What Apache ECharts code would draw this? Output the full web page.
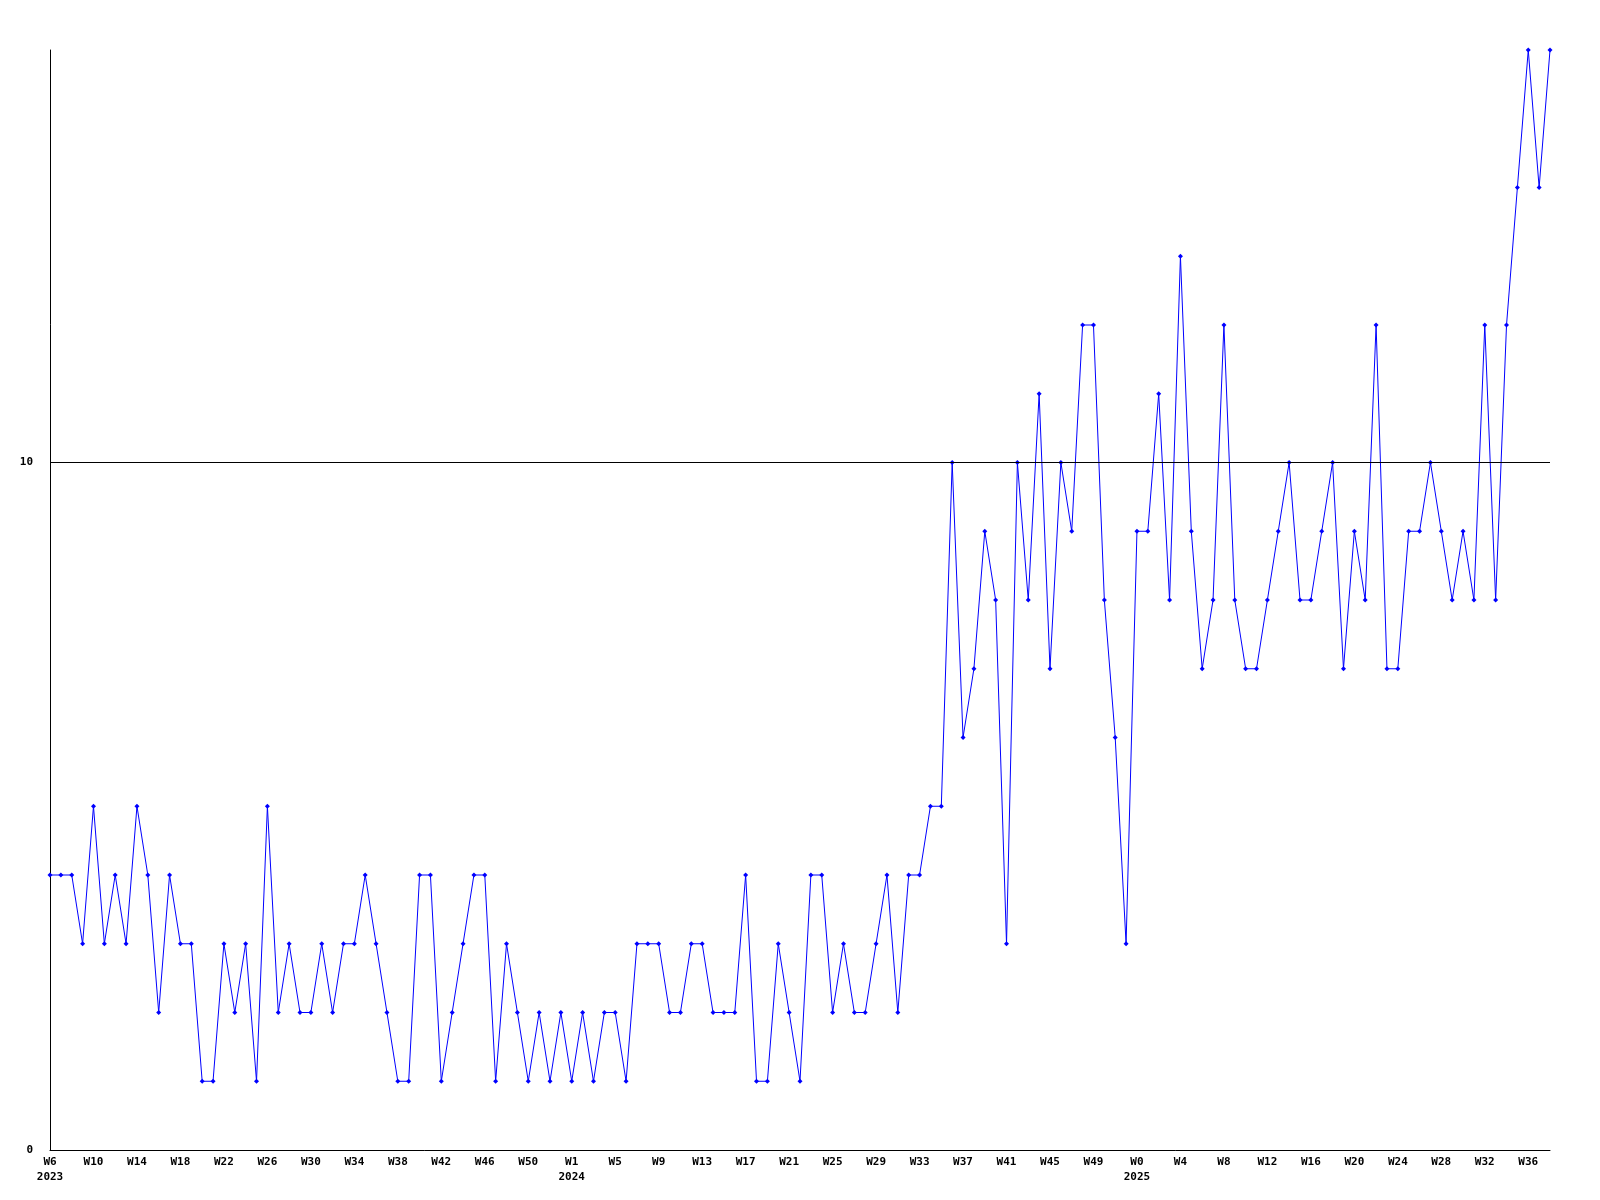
<!DOCTYPE html>
<html>
<head>
<meta charset="utf-8">
<style>
  html, body { margin: 0; padding: 0; background: #fff; }
  #chart { width: 1600px; height: 1200px; }
</style>
<script src="https://cdn.jsdelivr.net/npm/echarts@6/dist/echarts.min.js"></script>
</head>
<body>
<div id="chart"></div>
<script>
// [year, first week, last week] of the x axis
const yearWeeks = [
  [2023, 6, 53],
  [2024, 1, 52],
  [2025, 0, 38]
]

const values2023 = [
  4, 4, 4, 3, 5, 3, 4, 3, 5, 4, 2, 4, 3, 3, 1, 1, 3, 2, 3, 1, 5, 2, 3, 2, 2, 3,
  2, 3, 3, 4, 3, 2, 1, 1, 4, 4, 1, 2, 3, 4, 4, 1, 3, 2, 1, 2, 1, 2
]
const values2024 = [
  1, 2, 1, 2, 2, 1, 3, 3, 3, 2, 2, 3, 3, 2, 2, 2, 4, 1, 1, 3, 2, 1, 4, 4, 2, 3,
  2, 2, 3, 4, 2, 4, 4, 5, 5, 10, 6, 7, 9, 8, 3, 10, 8, 11, 7, 10, 9, 12, 12, 8, 6, 3
]
const values2025 = [
  9, 9, 11, 8, 13, 9, 7, 8, 12, 8, 7, 7, 8, 9, 10, 8, 8, 9, 10,
  7, 9, 8, 12, 7, 7, 9, 9, 10, 9, 8, 9, 8, 12, 8, 12, 14, 16, 14, 16
]

const yTicks = [0, 10]
const refLine = 10

const categories = []
const yearStart = {}
yearWeeks.forEach(([year, from, to]) => {
  yearStart[categories.length] = year
  for (let w = from; w <= to; w++) {
    categories.push('W' + w)
  }
})
const values = values2023.concat(values2024, values2025)

const font = {
  fontFamily: 'DejaVu Sans Mono',
  fontWeight: 'bold',
  fontSize: 11,
  color: '#000'
}

const chart = echarts.init(document.getElementById('chart'), null, { renderer: 'canvas' })
chart.setOption({
  animation: false,
  backgroundColor: '#fff',
  grid: {
    left: 50,
    right: 50,
    top: 50,
    bottom: 50
  },
  xAxis: {
    type: 'category',
    data: categories,
    boundaryGap: false,
    axisLine: { lineStyle: { color: '#000', width: 1 } },
    axisTick: { show: false },
    axisLabel: Object.assign({}, font, {
      interval: 3,
      margin: 5,
      lineHeight: 15,
      formatter: (value, index) =>
        yearStart[index] !== undefined ? value + '\n' + yearStart[index] : value
    }),
    splitLine: { show: false }
  },
  yAxis: {
    type: 'value',
    min: 0,
    max: 16,
    interval: 10,
    axisLine: { show: true, lineStyle: { color: '#000', width: 1 } },
    axisTick: { show: false },
    axisLabel: Object.assign({}, font, {
      margin: 17,
      formatter: (v) => (yTicks.includes(v) ? String(v) : '')
    }),
    splitLine: { show: false }
  },
  series: [
    {
      type: 'line',
      data: values,
      showAllSymbol: true,
      symbol: 'diamond',
      symbolSize: 5,
      itemStyle: { color: '#0000ff' },
      lineStyle: { color: '#0000ff', width: 1 },
      markLine: {
        silent: true,
        symbol: 'none',
        label: { show: false },
        lineStyle: { color: '#000', width: 1, type: 'solid' },
        data: [{ yAxis: refLine }]
      }
    }
  ]
})
</script>
</body>
</html>
